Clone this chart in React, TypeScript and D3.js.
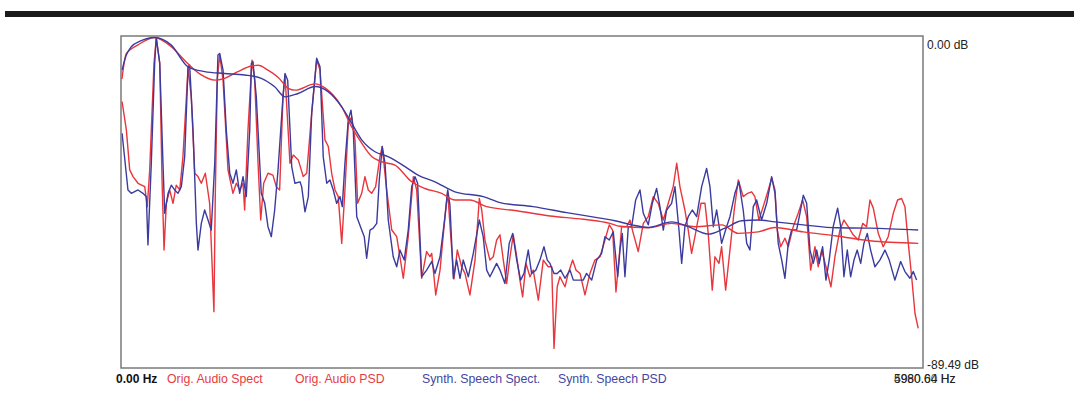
import React from "react";
import * as d3 from "d3";

// frequency axis limits (Hz) and level limits (dB)
const freqMax = 5980.64;
const dbMin = -89.49;
const dbMax = 0;

const yLabels = ["0.00 dB", "-89.49 dB"];
const xLabels = ["0.00 Hz", "5980.64 Hz", "4960.00 Hz"];

const legendNames = ["Orig. Audio Spect", "Orig. Audio PSD", "Synth. Speech Spect.", "Synth. Speech PSD"];

// [Hz, dB]
const origSpect: [number, number][] = [
  [8, -17.7], [40, -25.3], [65, -36.1], [90, -37.9], [127, -39.7], [177, -40.6], [196, -46.0], [214, -36.1],
  [246, -7.4], [263, -0.6], [289, -7.4], [306, -38.8], [321, -57.7], [338, -45.1], [363, -41.5], [388, -45.1],
  [412, -40.2], [438, -41.5], [462, -32.5], [500, -8.7], [524, -16.4], [550, -37.0], [574, -37.9], [599, -39.7],
  [629, -37.0], [661, -45.1], [679, -61.3], [693, -74.3], [703, -43.3], [718, -11.9], [736, -5.1], [761, -11.9],
  [798, -36.1], [835, -42.4], [860, -39.7], [885, -41.5], [910, -39.7], [922, -46.9], [947, -25.3], [977, -6.5],
  [997, -11.9], [1022, -34.3], [1042, -49.6], [1064, -39.7], [1096, -37.0], [1133, -37.5], [1158, -40.6], [1183, -41.5],
  [1208, -16.4], [1223, -10.5], [1260, -34.3], [1285, -32.1], [1322, -33.4], [1359, -37.9], [1385, -37.0], [1422, -20.8],
  [1459, -6.5], [1484, -9.2], [1521, -28.0], [1546, -29.8], [1571, -37.0], [1596, -41.5], [1620, -43.3], [1646, -55.9],
  [1670, -41.5], [1695, -23.5], [1720, -21.8], [1745, -28.0], [1765, -45.1], [1795, -42.4], [1819, -37.9], [1844, -41.5],
  [1869, -42.4], [1899, -40.6], [1931, -32.5], [1948, -29.8], [1981, -41.5], [2019, -52.3], [2056, -54.1], [2080, -59.5],
  [2105, -65.3], [2142, -54.1], [2180, -37.9], [2205, -41.5], [2242, -65.3], [2279, -58.1], [2304, -59.5], [2317, -58.6],
  [2347, -69.8], [2379, -63.1], [2416, -48.7], [2436, -42.0], [2461, -55.0], [2483, -65.5], [2508, -57.7], [2540, -62.2],
  [2565, -64.0], [2602, -69.8], [2640, -60.4], [2672, -43.8], [2690, -46.9], [2714, -55.0], [2751, -60.4], [2776, -59.5],
  [2801, -55.0], [2826, -53.6], [2851, -60.4], [2876, -66.7], [2901, -59.5], [2925, -53.6], [2951, -59.5], [2975, -65.8],
  [2995, -70.3], [3020, -61.3], [3050, -64.9], [3074, -63.1], [3112, -71.2], [3149, -60.4], [3186, -62.2], [3212, -62.2],
  [3229, -84.2], [3253, -67.6], [3273, -64.9], [3311, -67.6], [3335, -64.0], [3368, -60.4], [3393, -63.1], [3423, -64.0],
  [3460, -69.8], [3497, -64.0], [3534, -60.4], [3572, -59.5], [3609, -55.0], [3641, -50.9], [3666, -52.3], [3691, -69.0],
  [3713, -60.4], [3733, -51.4], [3771, -51.4], [3795, -49.6], [3820, -53.2], [3857, -58.1], [3895, -50.5], [3932, -48.7],
  [3969, -43.3], [4006, -45.1], [4044, -49.6], [4081, -45.1], [4118, -40.6], [4144, -34.3], [4168, -40.6], [4205, -46.9],
  [4230, -52.3], [4255, -58.6], [4280, -54.1], [4325, -45.1], [4355, -45.1], [4379, -53.2], [4409, -68.5], [4429, -59.5],
  [4459, -61.3], [4479, -56.8], [4509, -68.5], [4541, -57.7], [4573, -46.9], [4603, -38.8], [4640, -43.3], [4673, -42.4],
  [4703, -42.0], [4727, -43.3], [4757, -49.6], [4789, -46.0], [4827, -41.5], [4852, -38.3], [4877, -41.5], [4894, -52.3],
  [4919, -56.8], [4951, -54.5], [4976, -56.8], [5013, -51.4], [5050, -47.8], [5083, -44.2], [5113, -48.7], [5143, -63.1],
  [5175, -56.8], [5199, -62.2], [5225, -57.7], [5257, -62.2], [5294, -67.6], [5324, -59.5], [5361, -52.3], [5391, -49.6],
  [5423, -51.4], [5460, -53.6], [5498, -55.0], [5531, -50.5], [5560, -51.4], [5585, -44.2], [5610, -46.4], [5647, -53.2],
  [5684, -56.8], [5721, -54.1], [5759, -47.8], [5791, -44.2], [5821, -43.8], [5846, -46.0], [5871, -55.9], [5896, -64.9],
  [5921, -74.8], [5945, -78.8],
];

const origPsd: [number, number][] = [
  [7, -11.6], [40, -4.7], [127, -2.4], [251, -0.4], [375, -2.9], [500, -7.5], [599, -10.5], [699, -11.9],
  [773, -11.4], [872, -9.6], [972, -8.1], [1022, -7.9], [1096, -9.2], [1171, -11.1], [1247, -14.1], [1297, -14.6],
  [1447, -12.9], [1521, -14.0], [1646, -19.1], [1720, -24.5], [1795, -28.9], [1869, -32.5], [1944, -33.9], [2043, -34.8],
  [2168, -39.3], [2267, -41.1], [2391, -42.4], [2490, -44.2], [2602, -44.2], [2727, -46.0], [2951, -47.1], [3199, -48.5],
  [3447, -49.4], [3646, -50.5], [3721, -51.3], [3930, -51.7], [4106, -50.5], [4280, -51.4], [4479, -50.9], [4603, -53.2],
  [4752, -52.8], [4877, -51.6], [5088, -52.8], [5337, -53.9], [5585, -55.2], [5945, -55.9],
];

const synthSpect: [number, number][] = [
  [8, -26.2], [52, -41.5], [77, -42.4], [127, -41.5], [164, -42.4], [189, -43.3], [201, -56.3], [226, -34.3],
  [251, -7.4], [263, -0.4], [289, -7.4], [313, -34.3], [326, -47.8], [351, -42.4], [375, -40.2], [400, -41.5],
  [425, -42.4], [450, -40.6], [475, -32.5], [500, -8.3], [512, -7.8], [537, -25.3], [562, -50.5], [574, -57.7],
  [599, -50.5], [624, -46.9], [649, -49.6], [673, -52.3], [699, -34.3], [723, -5.1], [736, -4.7], [761, -9.2],
  [785, -25.3], [811, -37.0], [835, -39.7], [860, -36.1], [885, -42.4], [910, -37.9], [934, -43.3], [960, -25.3],
  [972, -7.4], [984, -6.9], [1009, -16.4], [1046, -42.4], [1072, -45.1], [1096, -51.4], [1121, -54.1], [1146, -46.9],
  [1171, -36.1], [1208, -16.4], [1223, -10.1], [1243, -11.9], [1273, -35.2], [1297, -39.7], [1335, -39.3], [1347, -40.6],
  [1372, -47.4], [1397, -43.3], [1422, -20.8], [1459, -6.0], [1484, -8.3], [1508, -32.5], [1534, -39.7], [1558, -38.8],
  [1583, -41.5], [1608, -45.1], [1633, -43.3], [1650, -46.0], [1670, -34.3], [1695, -22.6], [1715, -20.0], [1732, -25.3],
  [1758, -48.7], [1795, -52.3], [1814, -54.1], [1832, -59.9], [1857, -52.3], [1881, -51.8], [1907, -50.5], [1926, -38.8],
  [1948, -29.8], [1969, -34.3], [1993, -49.6], [2030, -59.5], [2056, -62.2], [2080, -57.7], [2112, -60.4], [2142, -52.3],
  [2168, -40.6], [2192, -37.9], [2212, -39.7], [2242, -64.9], [2279, -63.1], [2317, -60.8], [2341, -64.0], [2379, -59.5],
  [2416, -48.7], [2436, -41.5], [2453, -45.6], [2478, -65.3], [2503, -60.4], [2528, -65.3], [2552, -60.4], [2590, -64.9],
  [2627, -58.6], [2672, -49.6], [2701, -54.1], [2727, -63.1], [2751, -64.9], [2776, -63.1], [2801, -61.3], [2826, -63.1],
  [2863, -66.7], [2895, -55.9], [2921, -53.2], [2951, -60.4], [2980, -65.8], [3005, -64.0], [3037, -57.7], [3062, -64.0],
  [3094, -63.1], [3124, -60.4], [3154, -56.8], [3179, -60.4], [3199, -61.3], [3229, -64.0], [3253, -64.0], [3279, -63.1],
  [3311, -65.3], [3348, -63.1], [3373, -65.8], [3447, -65.8], [3472, -64.0], [3510, -65.8], [3547, -60.4], [3584, -58.6],
  [3609, -54.1], [3641, -55.0], [3671, -52.8], [3704, -64.9], [3721, -57.7], [3738, -53.2], [3758, -64.9], [3783, -51.4],
  [3808, -51.4], [3838, -44.2], [3870, -41.5], [3895, -47.8], [3932, -50.9], [3962, -45.1], [3994, -41.1], [4019, -46.0],
  [4044, -52.3], [4069, -46.9], [4106, -45.1], [4131, -40.6], [4161, -52.3], [4181, -61.3], [4205, -51.4], [4230, -48.7],
  [4260, -46.9], [4293, -48.7], [4330, -40.6], [4367, -35.7], [4392, -40.6], [4417, -51.4], [4442, -46.9], [4479, -55.9],
  [4516, -51.4], [4541, -48.7], [4578, -42.4], [4608, -39.3], [4640, -46.9], [4666, -55.9], [4690, -57.7], [4715, -46.0],
  [4740, -44.2], [4777, -49.6], [4815, -45.1], [4852, -37.9], [4877, -42.4], [4901, -55.9], [4927, -60.4], [4951, -65.3],
  [4976, -55.9], [5001, -52.3], [5038, -52.3], [5063, -47.8], [5088, -42.9], [5113, -45.1], [5138, -57.7], [5162, -61.3],
  [5188, -57.7], [5207, -61.3], [5232, -56.8], [5257, -65.8], [5281, -60.4], [5311, -51.4], [5344, -46.4], [5367, -51.4],
  [5391, -64.9], [5416, -57.7], [5441, -64.9], [5466, -60.4], [5490, -57.7], [5516, -61.3], [5540, -55.9], [5565, -53.2],
  [5590, -57.7], [5622, -62.2], [5659, -60.4], [5697, -57.7], [5729, -60.4], [5771, -65.8], [5814, -60.8], [5846, -63.5],
  [5883, -65.3], [5908, -63.5], [5933, -65.8],
];

const synthPsd: [number, number][] = [
  [8, -9.2], [37, -5.4], [77, -2.9], [142, -1.4], [251, -0.4], [373, -2.4], [500, -8.3], [624, -9.6],
  [773, -10.1], [922, -10.5], [1046, -11.4], [1146, -13.7], [1223, -16.4], [1320, -15.5], [1447, -13.6], [1544, -15.0],
  [1646, -19.1], [1720, -23.5], [1795, -28.0], [1894, -31.2], [1991, -32.5], [2118, -35.2], [2215, -37.5], [2341, -39.3],
  [2490, -42.0], [2701, -43.3], [2826, -44.9], [3072, -46.0], [3323, -47.6], [3572, -49.1], [3684, -49.8], [3808, -50.9],
  [3932, -51.6], [4106, -50.1], [4230, -51.4], [4379, -53.4], [4504, -51.8], [4628, -49.8], [4752, -49.6], [4877, -50.1],
  [5088, -50.9], [5337, -51.7], [5585, -51.8], [5945, -52.3],
];

const RED = "#e8363c";
const BLUE = "#3b3b9f";

const App = () => {
  const width = 1074;
  const height = 396;
  const plot = { left: 121, right: 923, top: 36, bottom: 368 };

  const x = d3.scaleLinear().domain([0, freqMax]).range([plot.left, plot.right]);
  const y = d3.scaleLinear().domain([dbMin, dbMax]).range([plot.bottom, plot.top]);

  const spectLine = d3
    .line<[number, number]>()
    .x((d) => x(d[0]))
    .y((d) => y(d[1]));
  const psdLine = d3
    .line<[number, number]>()
    .x((d) => x(d[0]))
    .y((d) => y(d[1]))
    .curve(d3.curveMonotoneX);

  const legendX = [167, 295, 422, 558];
  const legendColors = ["#e53c44", "#e53c44", "#4646a2", "#4646a2"];
  const font = "'Liberation Sans', Arial, sans-serif";

  return (
    <svg
      width={width}
      height={height}
      style={{ position: "absolute", left: 0, top: 0, background: "#fff" }}
      fontFamily={font}
    >
      <rect x={5} y={11} width={width - 5} height={6} fill="#1b1b1b" />

      <defs>
        <clipPath id="plotclip">
          <rect x={plot.left} y={plot.top} width={plot.right - plot.left} height={plot.bottom - plot.top} />
        </clipPath>
      </defs>

      <g clipPath="url(#plotclip)" fill="none" strokeWidth={1.4} strokeLinejoin="round">
        <path d={spectLine(origSpect) || ""} stroke={RED} />
        <path d={spectLine(synthSpect) || ""} stroke={BLUE} />
        <path d={psdLine(origPsd) || ""} stroke={RED} />
        <path d={psdLine(synthPsd) || ""} stroke={BLUE} />
      </g>

      <rect
        x={plot.left}
        y={plot.top}
        width={plot.right - plot.left}
        height={plot.bottom - plot.top}
        fill="none"
        stroke="#7a7a7a"
        strokeWidth={1.5}
      />

      <text x={plot.right + 4} y={y(dbMax) + 13} fontSize={12} fill="#222">
        {yLabels[0]}
      </text>
      <text x={plot.right + 4} y={y(dbMin) + 1} fontSize={12} fill="#222">
        {yLabels[1]}
      </text>

      <text x={x(0) - 5} y={383} fontSize={12} fill="#111" fontWeight="bold">
        {xLabels[0]}
      </text>
      <text x={x(freqMax) - 29} y={383} fontSize={12} fill="#222">
        {xLabels[1]}
      </text>
      <text x={x(freqMax) - 29} y={383} fontSize={12} fill="#222" opacity={0.7}>
        {xLabels[2]}
      </text>

      {legendNames.map((name, i) => (
        <text key={name} x={legendX[i]} y={383} fontSize={12.3} fill={legendColors[i]}>
          {name}
        </text>
      ))}
    </svg>
  );
};

export default App;
